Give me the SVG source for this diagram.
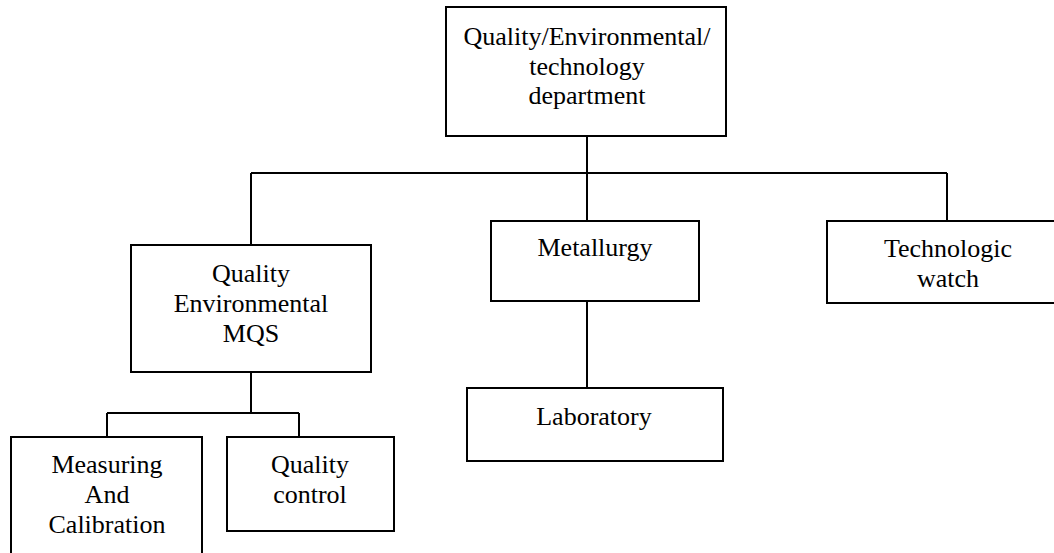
<svg xmlns="http://www.w3.org/2000/svg" width="1054" height="553" viewBox="0 0 1054 553">
<style>
.box{fill:#fff;stroke:#000;stroke-width:2}
.conn{fill:none;stroke:#000;stroke-width:2}
.t{font-family:'Liberation Serif','Times New Roman','DejaVu Serif',serif;font-size:26px;fill:#000;text-anchor:middle}
</style>
<rect width="1054" height="553" fill="#fff"/>
<g id="connectors">
<path class="conn" d="M587 136V173M251 173H947M251 173V245M587 173V221M947 173V221M587 301V388M251 372V413M107 413H299M107 413V437M299 413V437"/>
</g>
<g class="t" font-family="Liberation Serif, serif">
<g id="top">
<rect class="box" x="446" y="7" width="280" height="129"/>
<text x="587" y="45">Quality/Environmental/</text>
<text x="587" y="74.5">technology</text>
<text x="587" y="104">department</text>
</g>
<g id="qem">
<rect class="box" x="131" y="245" width="240" height="127"/>
<text x="251" y="282">Quality</text>
<text x="251" y="311.5">Environmental</text>
<text x="251" y="341.5">MQS</text>
</g>
<g id="metallurgy">
<rect class="box" x="491" y="221" width="208" height="80"/>
<text x="595" y="256">Metallurgy</text>
</g>
<g id="technologic">
<rect class="box" x="827" y="221" width="230" height="82"/>
<text x="948" y="257">Technologic</text>
<text x="948" y="287">watch</text>
</g>
<g id="laboratory">
<rect class="box" x="467" y="388" width="256" height="73"/>
<text x="594" y="425">Laboratory</text>
</g>
<g id="measuring">
<rect class="box" x="11" y="437" width="191" height="130"/>
<text x="107" y="473">Measuring</text>
<text x="107" y="503">And</text>
<text x="107" y="533">Calibration</text>
</g>
<g id="qcontrol">
<rect class="box" x="227" y="437" width="167" height="94"/>
<text x="310" y="473">Quality</text>
<text x="310" y="503">control</text>
</g>
</g>
</svg>
